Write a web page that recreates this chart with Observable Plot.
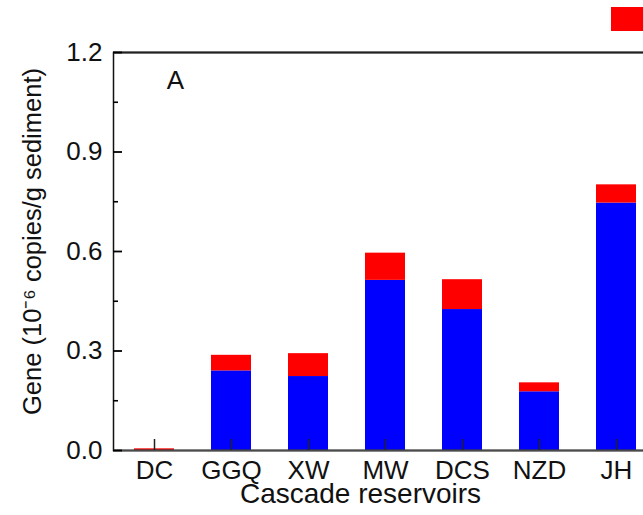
<!DOCTYPE html>
<html><head><meta charset="utf-8">
<script src="https://cdn.jsdelivr.net/npm/d3@7"></script>
<script src="https://cdn.jsdelivr.net/npm/@observablehq/plot@0.6"></script>
<style>
html,body{margin:0;padding:0;background:#fff;overflow:hidden;}
#wrap{position:relative;width:643px;height:515px;overflow:hidden;}
#legend{position:absolute;left:611px;top:7px;display:flex;align-items:center;}
#legend .sw{width:40px;height:24px;background:#ff0000;}
</style></head><body>
<div id="wrap"><div id="legend"><div class="sw"></div></div></div>
<script>
const categories = ["DC", "GGQ", "XW", "MW", "DCS", "NZD", "JH"];
const blueValues = [0, 0.240, 0.223, 0.513, 0.425, 0.177, 0.746];
const redValues  = [0.005, 0.047, 0.069, 0.082, 0.090, 0.027, 0.055];
const seriesKeys = ["blue", "red"];
const seriesColors = ["#0000ff", "#ff0000"];
const yMajorTicks = [0, 0.3, 0.6, 0.9, 1.2];
const yMinorTicks = [0.15, 0.45, 0.75, 1.05];
const xTitle = "Cascade reservoirs";
const yTitle = "Gene (10\u207B\u2076 copies/g sediment)";
const panelLabel = "A";

const rows = categories.flatMap((c, i) => [
  {category: c, series: seriesKeys[0], value: blueValues[i]},
  {category: c, series: seriesKeys[1], value: redValues[i]}
]);
const majorTickRows = yMajorTicks.map(v => ({v}));
const minorTickRows = yMinorTicks.map(v => ({v}));

const W = 643, H = 515, mL = 113, mR = 0;
const frameW = W - mL - mR;
const majorLen = 9, minorLen = 5;

const chart = Plot.plot({
  width: W,
  height: H,
  marginTop: 52,
  marginBottom: 65,
  marginLeft: mL,
  marginRight: mR,
  style: {fontFamily: "'Liberation Sans', Arial, sans-serif", fontSize: "26px", color: "#111", background: "white"},
  x: {domain: categories, range: [113, 655.9], paddingInner: 0.484, paddingOuter: 0.242},
  y: {domain: [0, 1.2]},
  color: {domain: seriesKeys, range: seriesColors},
  marks: [
    Plot.barY(rows, {x: "category", y: "value", fill: "series"}),
    Plot.frame({stroke: "#111", strokeWidth: 1.5, insetRight: -6}),
    Plot.ruleY([1.2], {stroke: "#222", strokeWidth: 2}),
    Plot.ruleY([0], {stroke: "#4a4a4a", strokeWidth: 2}),
    Plot.ruleY(majorTickRows, {y: "v", insetRight: frameW - majorLen, stroke: "#000", strokeWidth: 1.8}),
    Plot.ruleY(minorTickRows, {y: "v", insetRight: frameW - minorLen, stroke: "#000", strokeWidth: 1.6}),
    Plot.axisY(yMajorTicks, {tickSize: 0, tickPadding: 11, tickFormat: d => d.toFixed(1), fontSize: 26, label: null}),
    Plot.axisX({tickSize: 0, tickPadding: 10, fontSize: 26, label: null}),
    Plot.axisX({tickSize: -11, tickFormat: () => "", label: null, strokeWidth: 1.5, stroke: "#222"}),
    Plot.text([yTitle], {text: d => d, frameAnchor: "left", textAnchor: "middle", lineAnchor: "middle", dx: -81, dy: -10, rotate: -90, fontSize: 25.5}),
    Plot.text([xTitle], {text: d => d, frameAnchor: "bottom-left", textAnchor: "middle", lineAnchor: "middle", dx: 247, dy: 44, fontSize: 28}),
    Plot.text([panelLabel], {text: d => d, frameAnchor: "top-left", textAnchor: "middle", lineAnchor: "middle", dx: 62, dy: 28, fontSize: 26})
  ]
});
document.getElementById("wrap").prepend(chart);
</script>
</body></html>
